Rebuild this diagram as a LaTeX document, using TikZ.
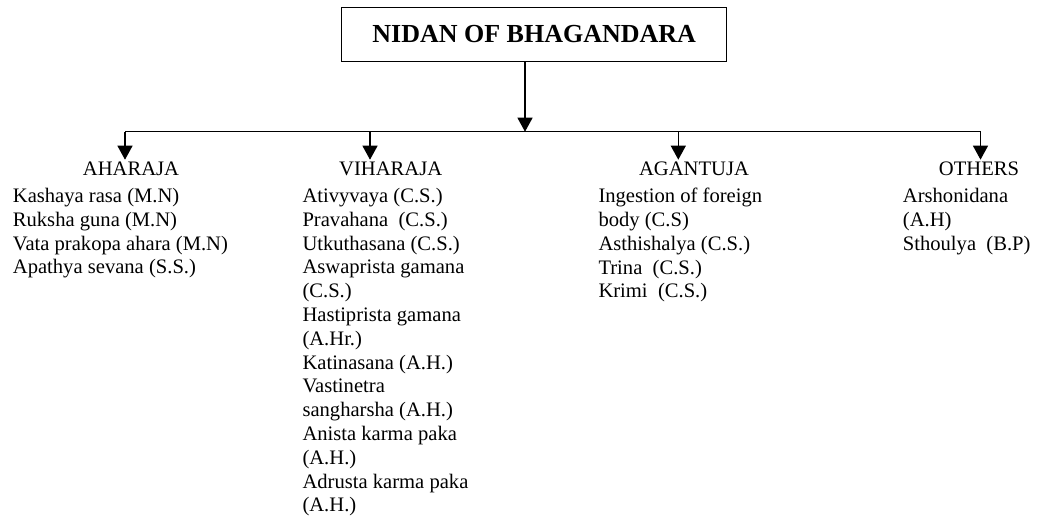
\documentclass[tikz,border=0pt]{standalone}
\usepackage{fontspec}
\setmainfont{Liberation Serif}
\usetikzlibrary{arrows.meta}
\begin{document}
\begin{tikzpicture}[x=1pt,y=-1pt,
  conn/.style={line width=1.3pt},
  arr/.style={conn,-{Triangle[length=14pt,width=15pt]}},
  titlebox/.style={draw,line width=1pt,minimum width=385pt,minimum height=53.7pt,inner sep=0pt,
    font=\fontsize{26}{30}\selectfont\bfseries},
  heading/.style={anchor=base,inner sep=1.5pt,font=\fontsize{20.6}{23.8}\selectfont},
  body/.style={anchor=north west,inner sep=0pt,align=left,font=\fontsize{20.6}{23.8}\selectfont}]
\useasboundingbox (0,0) rectangle (1038,525);
\node[titlebox] (title) at (534.2,34.2) {NIDAN OF BHAGANDARA};
\coordinate (hub) at (525,131.7);
\coordinate (b1) at (125,131.7);
\coordinate (b2) at (370,131.7);
\coordinate (b3) at (678.3,131.7);
\coordinate (b4) at (980.5,131.7);
\node[heading] (h1) at (131,175) {AHARAJA};
\node[heading] (h2) at (390.7,175) {VIHARAJA};
\node[heading] (h3) at (694,175) {AGANTUJA};
\node[heading] (h4) at (979,175) {OTHERS};
\draw[arr] (title.south -| hub) -- (hub);
\draw[conn] (b1) -- (b4);
\draw[arr] (b1) -- (h1.north -| b1);
\draw[arr] (b2) -- (h2.north -| b2);
\draw[arr] (b3) -- (h3.north -| b3);
\draw[arr] (b4) -- (h4.north -| b4);
\node[body] (c1) at (12.7,188) {Kashaya rasa (M.N)\\Ruksha guna (M.N)\\Vata prakopa ahara (M.N)\\Apathya sevana (S.S.)};
\node[body] (c2) at (302.3,188) {Ativyvaya (C.S.)\\Pravahana\ \ (C.S.)\\Utkuthasana (C.S.)\\Aswaprista gamana\\(C.S.)\\Hastiprista gamana\\(A.Hr.)\\Katinasana (A.H.)\\Vastinetra\\sangharsha (A.H.)\\Anista karma paka\\(A.H.)\\Adrusta karma paka\\(A.H.)};
\node[body] (c3) at (598.3,188) {Ingestion of foreign\\body (C.S)\\Asthishalya (C.S.)\\Trina\ \ (C.S.)\\Krimi\ \ (C.S.)};
\node[body] (c4) at (902.7,188) {Arshonidana\\(A.H)\\Sthoulya\ \ (B.P)};
\end{tikzpicture}
\end{document}
